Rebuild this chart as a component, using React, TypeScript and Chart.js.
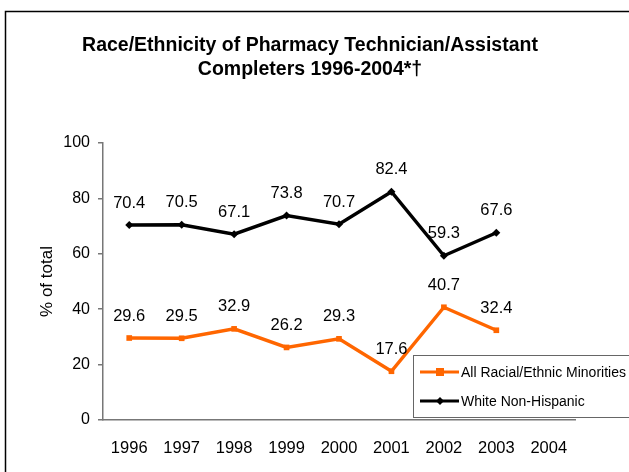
import React, { useEffect, useRef } from "react";
import { Chart, registerables } from "chart.js";

Chart.register(...registerables);

const years = ["1996", "1997", "1998", "1999", "2000", "2001", "2002", "2003", "2004"];
const minorities = [29.6, 29.5, 32.9, 26.2, 29.3, 17.6, 40.7, 32.4, null];
const whiteNonHispanic = [70.4, 70.5, 67.1, 73.8, 70.7, 82.4, 59.3, 67.6, null];
const yTicks = [0, 20, 40, 60, 80, 100];
const titleLines = ["Race/Ethnicity of Pharmacy Technician/Assistant", "Completers 1996-2004*†"];

const FONT = "'Liberation Sans', Arial, sans-serif";
const ORANGE = "#FF6600";

const framePlugin = {
  id: "frame",
  beforeDraw(chart: any) {
    const ctx = chart.ctx;
    ctx.save();
    ctx.fillStyle = "#fff";
    ctx.fillRect(0, 0, chart.width, chart.height);
    ctx.strokeStyle = "#000";
    ctx.lineWidth = 1.5;
    ctx.beginPath();
    ctx.moveTo(5.5, chart.height + 2);
    ctx.lineTo(5.5, 11.5);
    ctx.lineTo(chart.width + 2, 11.5);
    ctx.stroke();
    // title
    ctx.fillStyle = "#000";
    ctx.font = `bold 19.5px ${FONT}`;
    ctx.textAlign = "center";
    ctx.textBaseline = "middle";
    titleLines.forEach((t, i) => ctx.fillText(t, 310, 46 + i * 24));
    ctx.restore();
  },
};

const labelsPlugin = {
  id: "valueLabels",
  afterDatasetsDraw(chart: any) {
    const ctx = chart.ctx;
    ctx.save();
    ctx.font = `16.5px ${FONT}`;
    ctx.fillStyle = "#000";
    ctx.textAlign = "center";
    ctx.textBaseline = "middle";
    chart.data.datasets.forEach((ds: any, i: number) => {
      const meta = chart.getDatasetMeta(i);
      meta.data.forEach((pt: any, j: number) => {
        const v = ds.data[j];
        if (v === null || v === undefined) return;
        ctx.fillText(v.toFixed(1), pt.x, pt.y - 22);
      });
    });
    ctx.restore();
  },
};

const legendPlugin = {
  id: "boxLegend",
  afterDraw(chart: any) {
    const ctx = chart.ctx;
    const x0 = 413.5, y0 = 355.5, w = 240, h = 62;
    ctx.save();
    ctx.fillStyle = "#fff";
    ctx.fillRect(x0, y0, w, h);
    ctx.strokeStyle = "#666";
    ctx.lineWidth = 1;
    ctx.strokeRect(x0, y0, w, h);
    chart.data.datasets.forEach((ds: any, i: number) => {
      const yy = 372 + i * 29;
      ctx.strokeStyle = ds.borderColor;
      ctx.lineWidth = 3;
      ctx.beginPath();
      ctx.moveTo(420, yy);
      ctx.lineTo(459, yy);
      ctx.stroke();
      ctx.fillStyle = ds.borderColor;
      if (ds.pointStyle === "rect") {
        ctx.fillRect(436, yy - 4, 8, 8);
      } else {
        ctx.beginPath();
        ctx.moveTo(440, yy - 4);
        ctx.lineTo(444, yy);
        ctx.lineTo(440, yy + 4);
        ctx.lineTo(436, yy);
        ctx.closePath();
        ctx.fill();
      }
      ctx.fillStyle = "#000";
      ctx.font = `14px ${FONT}`;
      ctx.textAlign = "left";
      ctx.textBaseline = "middle";
      ctx.fillText(ds.label, 461, yy + 1);
    });
    ctx.restore();
  },
};

export default function App() {
  const ref = useRef<HTMLCanvasElement>(null);
  useEffect(() => {
    const chart = new Chart(ref.current!, {
      type: "line",
      data: {
        labels: years,
        datasets: [
          {
            label: "All Racial/Ethnic Minorities",
            data: minorities,
            borderColor: ORANGE,
            backgroundColor: ORANGE,
            borderWidth: 3.5,
            pointStyle: "rect",
            pointRadius: 4,
            pointBorderWidth: 0,
            tension: 0,
          },
          {
            label: "White Non-Hispanic",
            data: whiteNonHispanic,
            borderColor: "#000",
            backgroundColor: "#000",
            borderWidth: 3.5,
            pointStyle: "rectRot",
            pointRadius: 4,
            pointBorderWidth: 0,
            tension: 0,
          },
        ],
      },
      options: {
        animation: false,
        responsive: false,
        maintainAspectRatio: false,
        layout: { padding: { left: 0, right: 54, top: 143, bottom: 0 } },
        plugins: {
          legend: { display: false },
          tooltip: { enabled: false },
          title: { display: false },
        },
        scales: {
          x: {
            type: "category",
            offset: true,
            grid: { display: false, drawTicks: false },
            border: { display: true, color: "#777", width: 1.5 },
            ticks: { color: "#000", font: { family: FONT, size: 16.5 }, padding: 19, maxRotation: 0, autoSkip: false },
            afterFit: (s: any) => { s.height = 52; },
          },
          y: {
            min: 0,
            max: 100,
            afterBuildTicks: (s: any) => { s.ticks = yTicks.map((v) => ({ value: v })); },
            grid: { drawOnChartArea: false, drawTicks: true, tickLength: 5, color: "#777", lineWidth: 1.5 },
            border: { display: true, color: "#777", width: 1.5 },
            ticks: { color: "#000", font: { family: FONT, size: 16 }, padding: 8 },
            title: {
              display: true,
              text: "% of total",
              color: "#000",
              font: { family: FONT, size: 17 },
              padding: { top: 37, bottom: 0 },
            },
            afterFit: (s: any) => { s.width = 103; },
          },
        },
      },
      plugins: [framePlugin, labelsPlugin, legendPlugin],
    });
    return () => chart.destroy();
  }, []);
  return (
    <div style={{ position: "fixed", left: 0, top: 0, width: 629, height: 472 }}>
      <canvas ref={ref} width={629} height={472} style={{ display: "block" }} />
    </div>
  );
}
